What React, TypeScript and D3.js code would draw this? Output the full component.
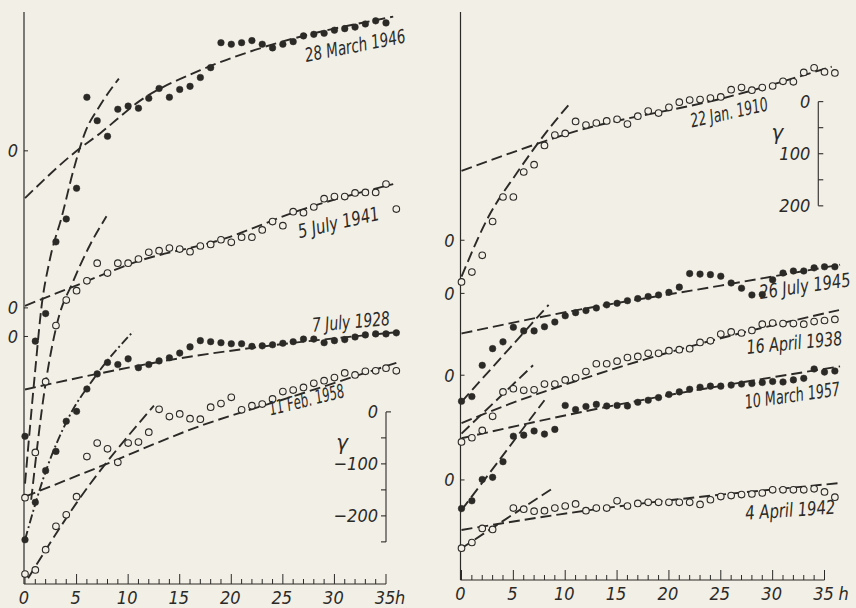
import React from "react";
import * as d3 from "d3";

// ---------- DATA ----------
// hourly values in γ, relative to each curve's own zero (left panel: up = positive)
const march1946 = [-549,-366,-313,-175,-131,-72,103,58,28,80,86,82,101,120,103,118,124,141,160,208,205,208,212,205,198,205,210,221,224,226,232,235,238,244,250,246];
const july1941 = [-365,-278,-142,-34,15,33,52,86,67,86,86,94,107,110,115,113,108,119,122,131,126,136,136,150,166,158,185,183,194,210,214,214,221,222,222,238,190];
const july1928 = [-391,-319,-258,-221,-163,-144,-101,-72,-50,-54,-43,-60,-54,-47,-41,-32,-20,-8,-10,-12,-14,-14,-19,-18,-16,-13,-10,-5,-5,-12,-8,-6,-1,3,5,5,7];
const feb1958 = [-457,-449,-410,-365,-343,-308,-231,-205,-216,-242,-205,-203,-184,-140,-154,-149,-158,-159,-136,-129,-117,-141,-133,-130,-120,-106,-103,-98,-90,-85,-79,-70,-74,-67,-66,-61,-66];

// right panel (scale bar runs 0 → 200 downward: down = positive)
const jan1910 = [80,61,29,-36,-83,-83,-131,-145,-182,-202,-205,-228,-221,-225,-229,-232,-223,-238,-248,-244,-255,-265,-269,-270,-273,-275,-289,-293,-288,-293,-296,-305,-304,-322,-331,-323,-321];
const july1945 = [207,198,138,106,93,65,72,72,64,55,43,37,33,28,22,19,14,10,6,3,-2,-12,-38,-37,-36,-33,-20,-10,3,2,-26,-39,-43,-43,-49,-51,-51];
const april1938 = [128,120,106,79,32,26,29,28,17,17,9,5,-7,-22,-22,-27,-34,-36,-42,-42,-47,-49,-51,-63,-66,-79,-83,-81,-86,-98,-100,-99,-99,-98,-103,-105,-107];
const march1957 = [256,241,200,196,166,117,115,107,113,104,58,66,60,56,59,58,59,52,48,43,37,32,27,23,21,21,19,17,16,14,12,13,9,6,-12,-6,-8];
const april1942 = [131,120,93,95,null,54,56,60,59,54,50,46,59,54,54,40,50,45,43,43,43,43,43,47,38,32,30,28,27,25,19,19,19,19,17,23,33];

// fitted dashed lines [hour, γ]
const march1946Slow = [[0,-91],[4.7,-5],[7.3,34],[11.2,97],[17,155],[22.3,194],[35.7,258]];
const march1946Fast = [[0,-640],[1,-420],[1.6,-300],[2.4,-210],[3.6,-124],[4.7,-37],[5.8,34],[7.3,88],[9.1,139]];
const july1941Slow = [[0,4],[4.7,41],[11,90],[19,131],[27,190],[35.7,238]];
const july1941Fast = [[0.6,-369],[1.9,-158],[3.2,-23],[4.6,48],[6.3,121],[7.9,176]];
const july1928Slow = [[0,-102],[7,-72],[15,-42],[22,-22],[36.5,9]];
const july1928Fast = [[0,-391],[2,-260],[4,-165],[7,-72],[10.5,10]];
const feb1958Slow = [[0,-308],[7.3,-250],[17,-172],[25.7,-117],[36.4,-48]];
const feb1958Fast = [[0.3,-465],[5,-320],[12.5,-133]];

const jan1910Slow = [[0,-133],[3.7,-160],[10.5,-206],[25.9,-276],[35.7,-333]];
const jan1910Fast = [[0,70],[2.6,-45],[5.3,-128],[8.2,-208],[10.3,-259]];
const july1945Slow = [[0,77],[9,40],[25,-15],[36.5,-55]];
const july1945Fast = [[0,208],[8.4,22]];
const april1938Slow = [[0,92],[4,60],[12,5],[22,-55],[36.4,-125]];
const april1938Fast = [[0,112],[6.9,-19]];
const march1957Slow = [[0,121],[13.7,62],[36.5,-17]];
const march1957Fast = [[0,259],[8,48]];
const april1942Slow = [[0,96],[9.5,66],[36.5,6]];
const april1942Fast = [[0,131],[8.8,16]];

const leftLabels = ["28 March 1946", "5 July 1941", "7 July 1928", "11 Feb. 1958"];
const rightLabels = ["22 Jan. 1910", "26 July 1945", "16 April 1938", "10 March 1957", "4 April 1942"];
// vertical displacement (γ) of each curve's zero in its panel
const leftOffsets = [833, 531, 476, 476];
const rightOffsets = [438, 540, 697, 697, 898];
const leftZeroTicks = [833, 531, 476];
const rightZeroTicks = [438, 540, 697, 898];

const xTicks = [0, 5, 10, 15, 20, 25, 30, 35];
const leftBarTicks = [0, -50, -100, -150, -200, -250];
const leftBarLabels = [0, -100, -200];
const rightBarTicks = [0, 50, 100, 150, 200];
const rightBarLabels = [0, 100, 200];

// ---------- STYLE ----------
const INK = "#2c2a27";
const BG = "#f2efe6";
const FONT = "'DejaVu Sans Condensed','Liberation Sans Narrow','DejaVu Sans',sans-serif";
const DASH = "11 5";
const DASHDOT = "9 3 2 3";

type Pt = [number, number];

export default function App() {
  const xL = d3.scaleLinear().domain([0, 35]).range([25, 386]);
  const yL = d3.scaleLinear().domain([0, 1100]).range([584, 12]);
  const xR = d3.scaleLinear().domain([0, 35]).range([461.5, 824.5]);
  const yR = d3.scaleLinear().domain([0, 1090]).range([12, 580]);

  const left = {
    x: xL, y: yL, axisX: 24, bottomY: 584, topY: 12, unitGap: 9,
    unit: "h",
    zeros: leftZeroTicks,
    series: [
      { label: leftLabels[0], values: march1946, filled: true, offset: leftOffsets[0], fits: [[march1946Slow, DASH], [march1946Fast, DASH]], lab: [32.0, 202, -11, 102] },
      { label: leftLabels[1], values: july1941, filled: false, offset: leftOffsets[1], fits: [[july1941Slow, DASH], [july1941Fast, DASH]], lab: [30.4, 164, -13, 83] },
      { label: leftLabels[2], values: july1928, filled: true, offset: leftOffsets[2], fits: [[july1928Slow, DASH], [july1928Fast, DASHDOT]], lab: [31.6, 28, -5, 78] },
      { label: leftLabels[3], values: feb1958, filled: false, offset: leftOffsets[3], fits: [[feb1958Slow, DASH], [feb1958Fast, DASH]], lab: [27.3, -122, -14, 77] },
    ],
    bar: { h: 35, offset: 331, ticks: leftBarTicks, labels: leftBarLabels, side: -1, gamma: [-44, -58] },
  };
  const right = {
    x: xR, y: yR, axisX: 460.5, bottomY: 580, topY: 12, unitGap: 14,
    unit: "h",
    zeros: rightZeroTicks,
    series: [
      { label: rightLabels[0], values: jan1910, filled: false, offset: rightOffsets[0], fits: [[jan1910Slow, DASH], [jan1910Fast, DASH]], lab: [25.8, -245, -12.5, 79] },
      { label: rightLabels[1], values: july1945, filled: true, offset: rightOffsets[1], fits: [[july1945Slow, DASH], [july1945Fast, DASH]], lab: [33.1, -14, -8, 92] },
      { label: rightLabels[2], values: april1938, filled: false, offset: rightOffsets[2], fits: [[april1938Slow, DASH], [april1938Fast, DASH]], lab: [32.1, -62, -5.5, 96] },
      { label: rightLabels[3], values: march1957, filled: true, offset: rightOffsets[3], fits: [[march1957Slow, DASH], [march1957Fast, DASH]], lab: [31.9, 39, -8, 96] },
      { label: rightLabels[4], values: april1942, filled: false, offset: rightOffsets[4], fits: [[april1942Slow, DASH], [april1942Fast, DASH]], lab: [31.7, 58, -4, 90] },
    ],
    bar: { h: 34.4, offset: 172, ticks: rightBarTicks, labels: rightBarLabels, side: 1, gamma: [-41, 60] },
  };

  const textStyle: React.CSSProperties = { fontFamily: FONT, fontStyle: "italic", fill: INK };

  const renderPanel = (p: any, key: string) => {
    const minorTicks = d3.range(0, 36);
    return (
      <g key={key}>
        {/* axes */}
        <line x1={p.axisX} x2={p.axisX} y1={p.topY} y2={p.bottomY} stroke={INK} strokeWidth={1.2} />
        <line x1={p.axisX} x2={p.x(35)} y1={p.bottomY} y2={p.bottomY} stroke={INK} strokeWidth={1.2} />
        {minorTicks.map((t: number) => (
          <line key={"t" + t} x1={p.x(t)} x2={p.x(t)} y1={p.bottomY} y2={p.bottomY - (t % 5 === 0 ? 10 : 5)} stroke={INK} strokeWidth={1} />
        ))}
        {xTicks.map((t) => (
          <g key={"l" + t}>
            <text x={p.x(t) - 1} y={p.bottomY + 20} textAnchor="middle" fontSize={18} style={textStyle}>{String(t)}</text>
            {t === 35 && (
              <text x={p.x(t) + p.unitGap} y={p.bottomY + 20} textAnchor="start" fontSize={18} style={textStyle}>{p.unit}</text>
            )}
          </g>
        ))}
        {/* zero marks */}
        {p.zeros.map((z: number, i: number) => (
          <g key={"z" + i}>
            <line x1={p.axisX} x2={p.axisX + 4} y1={p.y(z)} y2={p.y(z)} stroke={INK} strokeWidth={1} />
            <text x={p.axisX - 6} y={p.y(z)} textAnchor="end" dominantBaseline="central" fontSize={18} style={textStyle}>0</text>
          </g>
        ))}
        {/* fitted lines */}
        {p.series.map((s: any, si: number) =>
          s.fits.map((f: any, fi: number) => {
            const line = d3.line<Pt>()
              .x((d) => p.x(d[0]))
              .y((d) => p.y(s.offset + d[1]))
              .curve(d3.curveMonotoneX);
            return (
              <path key={"f" + si + "_" + fi} d={line(f[0] as Pt[]) || ""} fill="none" stroke={INK} strokeWidth={1.9} strokeDasharray={f[1]} />
            );
          })
        )}
        {/* points */}
        {p.series.map((s: any, si: number) =>
          s.values.map((v: number | null, h: number) =>
            v === null ? null : (
              <circle key={"p" + si + "_" + h} cx={p.x(h)} cy={p.y(s.offset + v)} r={3.3}
                fill={s.filled ? INK : BG} stroke={INK} strokeWidth={s.filled ? 0.5 : 1.1} />
            )
          )
        )}
        {/* curve labels */}
        {p.series.map((s: any, si: number) => {
          const cx = p.x(s.lab[0]);
          const cy = p.y(s.offset + s.lab[1]);
          return (
            <text key={"n" + si} x={0} y={0} textAnchor="middle" dominantBaseline="central" fontSize={16}
              textLength={s.lab[3]} lengthAdjust="spacingAndGlyphs"
              transform={`translate(${cx} ${cy}) rotate(${s.lab[2]}) scale(1 1.2)`} style={textStyle}>{s.label}</text>
          );
        })}
        {/* γ scale bar */}
        {(() => {
          const b = p.bar;
          const bx = p.x(b.h);
          const yTop = p.y(b.offset + b.ticks[0]);
          const yBot = p.y(b.offset + b.ticks[b.ticks.length - 1]);
          return (
            <g>
              <line x1={bx} x2={bx} y1={yTop} y2={yBot} stroke={INK} strokeWidth={1.1} />
              <line x1={bx} x2={bx + 5} y1={yTop} y2={yTop} stroke={INK} strokeWidth={1.1} />
              {b.side > 0 && <line x1={bx} x2={bx + 5} y1={yBot} y2={yBot} stroke={INK} strokeWidth={1.1} />}
              {b.ticks.slice(1, b.side > 0 ? -1 : undefined).map((t: number) => (
                <line key={"bt" + t} x1={bx} x2={bx + 5 * b.side} y1={p.y(b.offset + t)} y2={p.y(b.offset + t)} stroke={INK} strokeWidth={1.1} />
              ))}
              {b.labels.map((t: number) => (
                <text key={"bl" + t} x={bx - 8} y={p.y(b.offset + t)} textAnchor="end" dominantBaseline="central" fontSize={18} style={textStyle}>
                  {t < 0 ? "\u2212" + Math.abs(t) : String(t)}
                </text>
              ))}
              <text x={bx + b.gamma[0]} y={p.y(b.offset + b.gamma[1])} textAnchor="middle" dominantBaseline="central" fontSize={22} style={textStyle}>γ</text>
            </g>
          );
        })()}
      </g>
    );
  };

  return (
    <svg width={856} height={608} style={{ position: "fixed", left: 0, top: 0, display: "block" }}>
      <rect width={856} height={608} fill={BG} />
      {renderPanel(left, "L")}
      {renderPanel(right, "R")}
    </svg>
  );
}
